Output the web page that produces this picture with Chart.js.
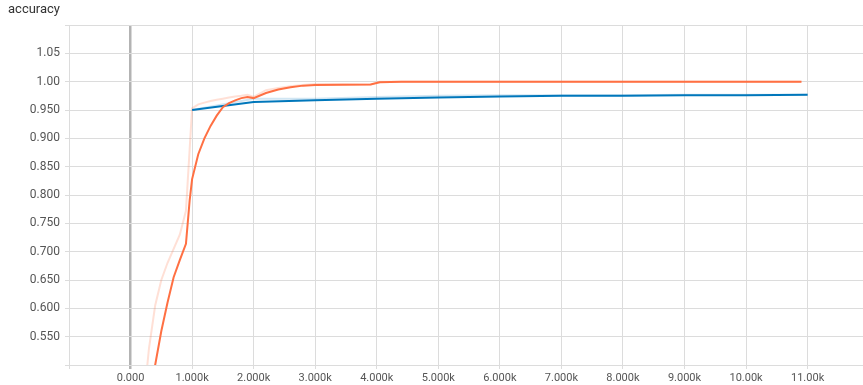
<!DOCTYPE html>
<html>
<head>
<meta charset="utf-8">
<script src="https://cdn.jsdelivr.net/npm/chart.js@4.4.1/dist/chart.umd.min.js"></script>
<style>
  html, body { margin: 0; padding: 0; background: #fff; }
  #wrap { position: relative; width: 863px; height: 385px; }
  #title {
    position: absolute; left: 8px; top: 2px;
    font: 13px Roboto, sans-serif; line-height: 13px; color: #333;
  }
  canvas { position: absolute; left: 0; top: 0; }
</style>
</head>
<body>
<div id="wrap">
  <canvas id="chart" width="863" height="385"></canvas>
  <div id="title">accuracy</div>
</div>
<script>
// Values.
const trainSteps  = [100, 200, 300, 400, 500, 600, 700, 800, 900, 960, 1000, 1100, 1200, 1300, 1400, 1500,
                     1600, 1700, 1800, 1900, 2000, 2200, 2400, 2600, 2800, 3000, 3900, 4050, 4400,
                     5000, 6000, 7000, 8000, 9000, 10000, 10900];
const trainRaw    = [0.25, 0.42, 0.53, 0.605, 0.65, 0.68, 0.705, 0.73, 0.772, 0.88, 0.953, 0.960, 0.963, 0.966, 0.968, 0.970,
                     0.972, 0.974, 0.975, 0.977, 0.973, 0.985, 0.989, 0.992, 0.994, 0.996, 0.995, 1.000, 1.000,
                     1.000, 1.000, 1.000, 1.000, 1.000, 1.000, 1.000];
const trainSmooth = [0.20, 0.33, 0.43, 0.50, 0.56, 0.61, 0.655, 0.685, 0.714, 0.79, 0.828, 0.872, 0.900, 0.922, 0.940, 0.955,
                     0.962, 0.967, 0.971, 0.973, 0.971, 0.980, 0.986, 0.990, 0.993, 0.994, 0.995, 0.999, 1.000,
                     1.000, 1.000, 1.000, 1.000, 1.000, 1.000, 1.000];

const valSteps  = [1000, 2000, 3000, 4000, 5000, 6000, 7000, 8000, 9000, 10000, 11000];
const valRaw    = [0.950, 0.970, 0.970, 0.973, 0.975, 0.976, 0.976, 0.976, 0.977, 0.977, 0.977];
const valSmooth = [0.950, 0.964, 0.967, 0.970, 0.972, 0.974, 0.975, 0.975, 0.976, 0.976, 0.977];

const xTicks = [-1000, 0, 1000, 2000, 3000, 4000, 5000, 6000, 7000, 8000, 9000, 10000, 11000];
const yTicks = [0.50, 0.55, 0.60, 0.65, 0.70, 0.75, 0.80, 0.85, 0.90, 0.95, 1.00, 1.05, 1.10];

const ORANGE = '#ff7043';
const BLUE = '#0077bb';

const pts = (xs, ys) => xs.map((x, i) => ({x, y: ys[i]}));

function lineSet(data, color, width, order) {
  return {data, borderColor: color, borderWidth: width, pointRadius: 0, tension: 0, fill: false, order};
}

new Chart(document.getElementById('chart').getContext('2d'), {
  type: 'line',
  data: {
    datasets: [
      lineSet(pts(trainSteps, trainSmooth), ORANGE, 2, 0),
      lineSet(pts(valSteps, valSmooth), BLUE, 2, 1),
      lineSet(pts(trainSteps, trainRaw), 'rgba(255,112,67,0.22)', 2, 2),
      lineSet(pts(valSteps, valRaw), 'rgba(0,119,187,0.18)', 2, 3)
    ]
  },
  options: {
    responsive: false,
    animation: false,
    layout: {padding: {top: 25, left: 0, right: 0, bottom: 0}},
    plugins: {legend: {display: false}, tooltip: {enabled: false}},
    scales: {
      x: {
        type: 'linear',
        min: -1000,
        max: 11900,
        afterBuildTicks: axis => { axis.ticks = xTicks.map(v => ({value: v})); },
        afterFit: axis => { axis.height = 20; },
        border: {display: false},
        grid: {
          color: ctx => (ctx.tick && ctx.tick.value === 0 ? '#b3b3b3' : '#dcdcdc'),
          lineWidth: ctx => (ctx.tick && ctx.tick.value === 0 ? 2.5 : 1),
          tickLength: 4
        },
        ticks: {
          autoSkip: false,
          maxRotation: 0,
          padding: 3,
          color: '#555',
          font: {family: 'Roboto', size: 11},
          callback: v => (v < 0 ? '' : v === 0 ? '0.000' : (v / 1000).toPrecision(4) + 'k')
        }
      },
      y: {
        min: 0.5,
        max: 1.1,
        afterBuildTicks: axis => { axis.ticks = yTicks.map(v => ({value: v})); },
        afterFit: axis => { axis.width = 69; },
        border: {display: false},
        grid: {color: '#dcdcdc', lineWidth: 1, tickLength: 4},
        ticks: {
          autoSkip: false,
          padding: 5,
          color: '#555',
          font: {family: 'Roboto', size: 12},
          callback: (v, i) => (i === 0 || i === yTicks.length - 1 ? '' : v.toPrecision(3))
        }
      }
    }
  }
});
</script>
</body>
</html>
